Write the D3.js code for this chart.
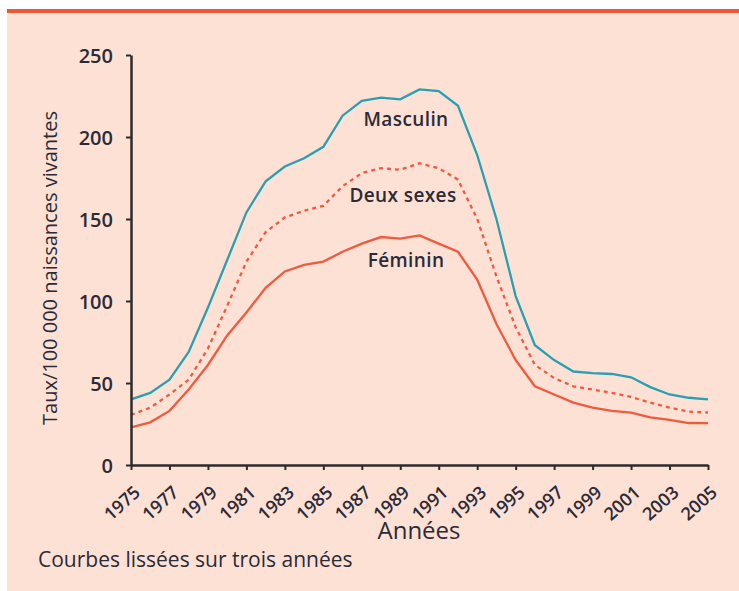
<!DOCTYPE html>
<html>
<head>
<meta charset="utf-8">
<script src="https://cdn.jsdelivr.net/npm/d3@7"></script>
<style>
  body { margin: 0; background: #fff; }
  svg text { font-family: "Open Sans", sans-serif; fill: #2b2b38; }
</style>
</head>
<body>
<div id="container"></div>
<script>
var years = d3.range(1975, 2006);
var masculin = [40, 44, 52, 69, 96, 125, 154, 173, 182, 187, 194, 213, 222, 224, 223, 229, 228, 219, 189, 150, 103, 73, 64, 57, 56, 55.5, 53.5, 47.5, 43, 41, 40];
var deuxSexes = [30.5, 35, 43, 52, 71, 97, 124, 142, 151, 155, 158, 170, 178, 181, 180, 184, 181, 174, 150, 115, 84, 61, 53, 48, 46, 44, 41.5, 38, 35, 32.5, 32];
var feminin = [23, 26, 33, 46, 61, 79, 93, 108, 118, 122, 124, 130, 135, 139, 138, 140, 135, 130, 113, 86, 64, 48, 43, 38, 35, 33, 32, 29, 27.5, 25.6, 25.5];
var yTicks = [0, 50, 100, 150, 200, 250];
var xTicks = d3.range(1975, 2006, 2);
var seriesLabels = ["Masculin", "Deux sexes", "Féminin"];

var width = 739;
var height = 591;
var margin = {top: 55, left: 131, right: 31, bottom: 126};

var svg = d3.select("#container")
  .append("svg")
  .attr("width", width)
  .attr("height", height);

// panel background and red rule
svg.append("rect")
  .attr("x", 7).attr("y", 10)
  .attr("width", width - 7).attr("height", height - 10)
  .attr("fill", "#fde1d5");
svg.append("rect")
  .attr("x", 7).attr("y", 9)
  .attr("width", width - 7).attr("height", 4)
  .attr("fill", "#ef5636");

var xScale = d3.scaleLinear()
  .domain([1975, 2005])
  .range([margin.left, width - margin.right]);

var yScale = d3.scaleLinear()
  .domain([0, 250])
  .range([height - margin.bottom, margin.top]);

var line = d3.line()
  .x(function(d, i) { return xScale(years[i]); })
  .y(function(d) { return yScale(d); });

svg.append("path")
  .attr("d", line(masculin))
  .attr("fill", "none")
  .attr("stroke", "#2a9fb2")
  .attr("stroke-width", 2.3);

svg.append("path")
  .attr("d", line(deuxSexes))
  .attr("fill", "none")
  .attr("stroke", "#ef5b3f")
  .attr("stroke-width", 2.3)
  .attr("stroke-dasharray", "4,4");

svg.append("path")
  .attr("d", line(feminin))
  .attr("fill", "none")
  .attr("stroke", "#ef5b3f")
  .attr("stroke-width", 2.3);

var xAxis = d3.axisBottom(xScale)
  .tickValues(xTicks)
  .tickFormat(d3.format("d"))
  .tickSize(5)
  .tickSizeOuter(0);

var yAxis = d3.axisLeft(yScale)
  .tickValues(yTicks)
  .tickSize(5)
  .tickSizeOuter(0);

var gx = svg.append("g")
  .attr("id", "x-axis")
  .attr("transform", "translate(0," + (height - margin.bottom) + ")")
  .call(xAxis);

var gy = svg.append("g")
  .attr("id", "y-axis")
  .attr("transform", "translate(" + margin.left + ",0)")
  .call(yAxis);

[gx, gy].forEach(function(g) {
  g.select(".domain").attr("stroke", "#2b2b2b").attr("stroke-width", 2.5);
  g.selectAll(".tick line").attr("stroke", "#2b2b2b").attr("stroke-width", 2);
});

gy.selectAll(".tick text")
  .attr("x", -18)
  .attr("dy", "0.36em")
  .style("font-size", "20px")
  .style("font-weight", 600)
  .style("fill", "#2b2b38");

gx.selectAll(".tick text")
  .attr("text-anchor", "end")
  .attr("dy", 0)
  .attr("y", 0)
  .attr("transform", "translate(10,29) rotate(-42)")
  .style("font-size", "18px")
  .style("font-weight", 600)
  .style("fill", "#2b2b38");

// axis titles
svg.append("text")
  .attr("transform", "translate(57,268) rotate(-90)")
  .attr("text-anchor", "middle")
  .style("font-size", "20px")
  .style("font-weight", 500)
  .text("Taux/100 000 naissances vivantes");

svg.append("text")
  .attr("x", 419)
  .attr("y", 539)
  .attr("text-anchor", "middle")
  .style("font-size", "24px")
  .style("font-weight", 500)
  .text("Années");

svg.append("text")
  .attr("x", 38)
  .attr("y", 567)
  .style("font-size", "21px")
  .style("font-weight", 500)
  .text("Courbes lissées sur trois années");

// series labels
var labelPos = [[406, 126], [403, 202], [406, 267]];
svg.selectAll(".series-label")
  .data(seriesLabels)
  .enter()
  .append("text")
  .attr("class", "series-label")
  .attr("x", function(d, i) { return labelPos[i][0]; })
  .attr("y", function(d, i) { return labelPos[i][1]; })
  .attr("text-anchor", "middle")
  .style("font-size", "19px")
  .style("font-weight", 600)
  .style("letter-spacing", "0.4px")
  .text(function(d) { return d; });
</script>
</body>
</html>
